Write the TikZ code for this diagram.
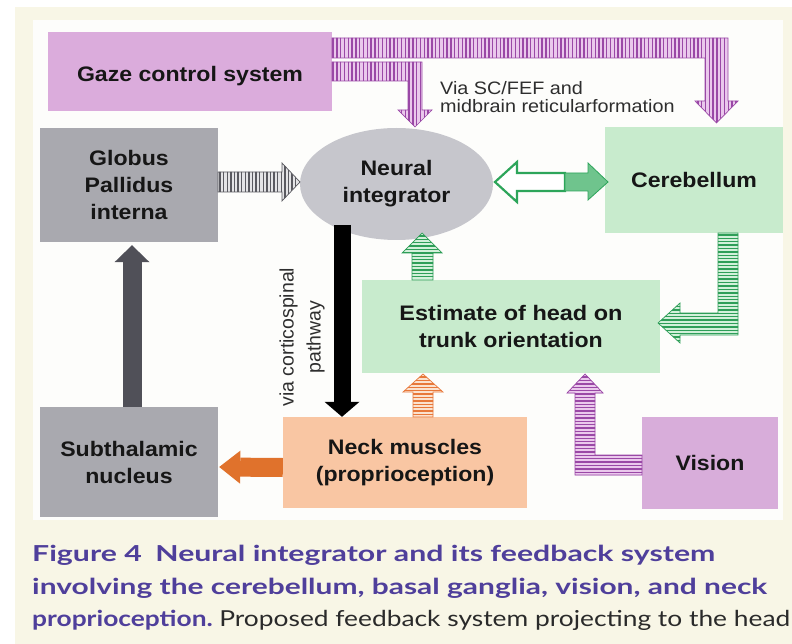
\documentclass[tikz,border=0pt]{standalone}
\usepackage{fontspec}
\usepackage{graphicx}
\usetikzlibrary{arrows.meta,shapes.geometric,calc}
\newfontfamily\dfont[FakeStretch=1.1]{Liberation Sans}
\newfontfamily\vfont{Liberation Sans}
\newfontfamily\capfont{Lato}
\definecolor{cream}{HTML}{F8F6E6}
\definecolor{panel}{HTML}{FDFDFB}
\definecolor{pinkbox}{HTML}{DBACDC}
\definecolor{visbox}{HTML}{D8ADDA}
\definecolor{graybox}{HTML}{A9A9AF}
\definecolor{ellgray}{HTML}{C6C6CC}
\definecolor{greenbox}{HTML}{C8EBCD}
\definecolor{neckbox}{HTML}{F9C6A3}
\definecolor{purstripe}{HTML}{9A48A6}
\definecolor{purfill}{HTML}{EAC8EC}
\definecolor{grnstripe}{HTML}{2E9E58}
\definecolor{grnfill}{HTML}{D2F0DA}
\definecolor{orgstripe}{HTML}{E8783A}
\definecolor{orgfill}{HTML}{FBE2CF}
\definecolor{gystripe}{HTML}{5A5A60}
\definecolor{gyfill}{HTML}{E4E4E6}
\definecolor{orgsolid}{HTML}{E0722C}
\definecolor{dgsolid}{HTML}{505058}
\definecolor{grnline}{HTML}{2DA55A}
\definecolor{grnsolid}{HTML}{6FC48D}
\definecolor{txt}{HTML}{161616}
\definecolor{viatxt}{HTML}{2E2E2E}
\definecolor{capblue}{HTML}{4F3F9B}
\definecolor{captxt}{HTML}{2A2A2A}
\newcommand\hstripes[4]{%
  \fill[#2] #1;
  \begin{scope}\clip #1;
    \foreach \yy in {#4} \draw[#3, line width=1.4] (0,\yy) -- (792,\yy);
  \end{scope}
  \draw[#3, line width=0.7, line join=miter] #1;}
\newcommand\vstripes[4]{%
  \fill[#2] #1;
  \begin{scope}\clip #1;
    \foreach \xx in {#4} \draw[#3, line width=1.4] (\xx,0) -- (\xx,644);
  \end{scope}
  \draw[#3, line width=0.7, line join=miter] #1;}
\tikzset{
  lbl/.style={font=\dfont\bfseries\fontsize{21}{27}\selectfont, text=txt, align=center, inner sep=0pt},
  box/.style={lbl, rectangle},
  capline/.style={anchor=base west, inner sep=0pt, text=capblue, font=\capfont\bfseries\fontsize{22}{30}\selectfont},
  vialbl/.style={anchor=base west, inner sep=0pt, text=viatxt, font=\dfont\fontsize{18}{19}\selectfont},
}
\begin{document}
\begin{tikzpicture}[x=1pt,y=-1pt]
\useasboundingbox (0,0) rectangle (792,644);
\fill[white] (0,0) rectangle (792,644);
\fill[cream] (15,7) rectangle (792,644);
\fill[panel] (33,20) rectangle (783,520);

% nodes
\node[box, fill=pinkbox, minimum width=284, minimum height=79] (gaze) at (190,71.5) {\raisebox{-5pt}[\height][\depth]{Gaze control system}};
\node[box, fill=graybox, minimum width=178, minimum height=114] (gpi) at (129,185) {Globus\\Pallidus\\interna};
\node[lbl, ellipse, fill=ellgray, minimum width=193, minimum height=112] (ni) at (396.5,184) {Neural\\integrator};
\node[box, fill=greenbox, minimum width=178, minimum height=106] (cer) at (694,180) {Cerebellum};
\node[box, fill=greenbox, minimum width=298, minimum height=93] (est) at (511,326.5) {\resizebox{223pt}{\height}{Estimate of head on}\\trunk orientation};
\node[box, fill=graybox, minimum width=178, minimum height=110] (stn) at (129,462) {Subthalamic\\nucleus};
\node[box, fill=neckbox, minimum width=244, minimum height=91] (neck) at (405,462.5) {Neck muscles\\(proprioception)};
\node[box, fill=visbox, minimum width=136, minimum height=92] (vis) at (710,463) {Vision};

% labels
\node[vialbl] (via1) at (440,95) {Via SC/FEF and};
\node[vialbl] (via2) at (440,113) {midbrain reticularformation};
\node[rotate=90, inner sep=0pt, align=center, text=viatxt, font=\vfont\fontsize{19.5}{27}\selectfont] (cs) at (302,337) {via corticospinal\\pathway};

% gaze -> cerebellum (upper band)
\vstripes{(332,38) -- (728,38) -- (728,101) -- (738,101) -- (716.5,123) -- (695,101) -- (705,101) -- (705,58) -- (332,58) -- cycle}{purfill}{purstripe}{333,336.8,...,740}
% gaze -> neural integrator (lower band)
\vstripes{(332,62) -- (422,62) -- (422,110) -- (432,110) -- (415,127) -- (398,110) -- (408,110) -- (408,81) -- (332,81) -- cycle}{purfill}{purstripe}{333,336.8,...,440}
% globus -> neural integrator
\vstripes{(218,172) -- (282,172) -- (282,163) -- (300,182) -- (282,201) -- (282,192) -- (218,192) -- cycle}{gyfill}{gystripe}{220,223.6,...,300}
% neural integrator <-> cerebellum
\draw[grnline, line width=2.2, fill=white, line join=miter] (495,182) -- (517,162) -- (517,173) -- (565,173) -- (565,191) -- (517,191) -- (517,202) -- cycle;
\draw[grnline, line width=0.8, fill=grnsolid] (565,173) -- (588,173) -- (588,163) -- (608,182) -- (588,200) -- (588,191) -- (565,191) -- cycle;
% cerebellum -> estimate
\hstripes{(718,233) -- (738,233) -- (738,335) -- (680,335) -- (680,343) -- (658,323) -- (680,303) -- (680,313) -- (718,313) -- cycle}{grnfill}{grnstripe}{235,238.4,...,345}
% estimate -> neural integrator
\hstripes{(412,280) -- (412,253) -- (402,253) -- (422,233) -- (442,253) -- (433,253) -- (433,280) -- cycle}{grnfill}{grnstripe}{236,239.4,...,280}
% neck -> estimate
\hstripes{(413,417) -- (413,392) -- (403,392) -- (423,374) -- (443,392) -- (433,392) -- (433,417) -- cycle}{orgfill}{orgstripe}{377,380.4,...,417}
% vision -> estimate
\hstripes{(642,455) -- (642,475) -- (575,475) -- (575,393) -- (567,393) -- (585,374) -- (603,393) -- (595,393) -- (595,455) -- cycle}{purfill}{purstripe}{377,380.4,...,476}

% solid arrows
\path (ni) ++(-54.5,41) coordinate (n1);
\draw[black, line width=17, -{Triangle[width=35pt,length=15pt,line width=0pt]}] (n1) -- (n1 |- neck.north);
\draw[dgsolid, line width=19, -{Triangle[width=35pt,length=17pt,line width=0pt]}] ([xshift=3pt]stn.north) -- ([xshift=3pt,yshift=-3pt]gpi.south);
\draw[orgsolid, line width=19, -{Triangle[width=33pt,length=21pt,line width=0pt]}] ([yshift=-5pt]neck.west) -- ([xshift=1pt,yshift=-5pt]stn.east);

% caption
\node[capline] (cap1) at (32,561) {\resizebox{683pt}{\height}{Figure 4\hspace{0.45em}Neural integrator and its feedback system}};
\node[capline] (cap2) at (32,594) {\resizebox{735pt}{\height}{involving the cerebellum, basal ganglia, vision, and neck}};
\node[capline] (cap3) at (32,626) {\resizebox{758pt}{\height}{proprioception.\ {\mdseries\color{captxt}Proposed feedback system projecting to the head}}};
\end{tikzpicture}
\end{document}
